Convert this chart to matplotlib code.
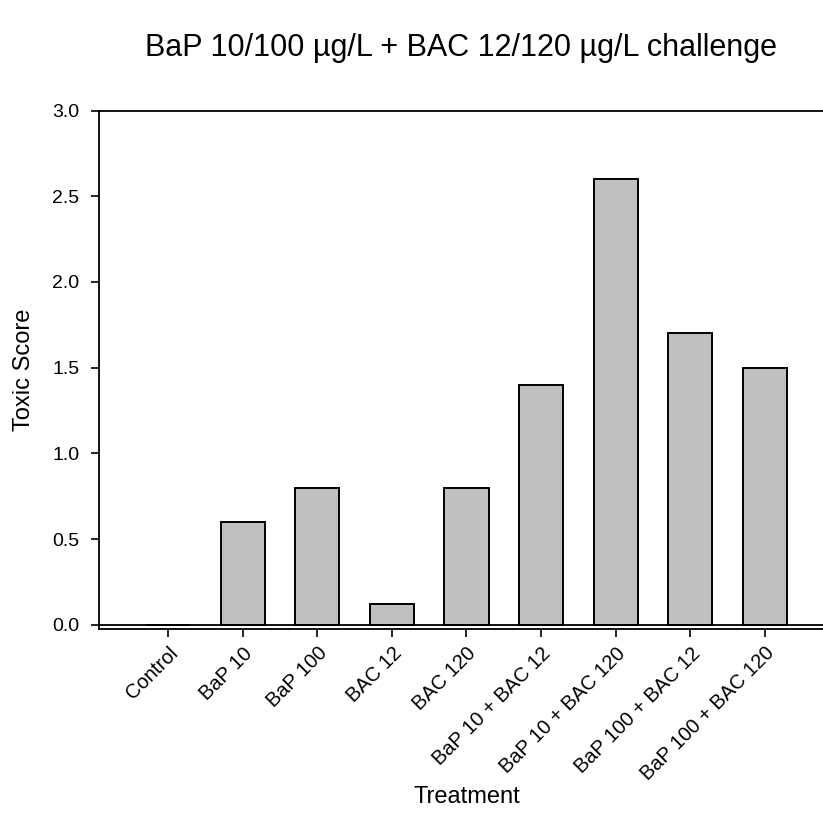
import matplotlib
matplotlib.use("Agg")
import matplotlib.pyplot as plt

plt.rcParams['font.family'] = ['Liberation Sans', 'DejaVu Sans']

treatments = ["Control", "BaP 10", "BaP 100", "BAC 12", "BAC 120",
              "BaP 10 + BAC 12", "BaP 10 + BAC 120", "BaP 100 + BAC 12",
              "BaP 100 + BAC 120"]
toxic_score = [0.0, 0.6, 0.8, 0.12, 0.8, 1.4, 2.6, 1.7, 1.5]
y_ticks = [0.0, 0.5, 1.0, 1.5, 2.0, 2.5, 3.0]

W, H = 823, 836
fig = plt.figure(figsize=(W / 100, H / 100), dpi=100)

left_px, right_px, top_px, bottom_px = 99, 834, 110.5, 629
ax = fig.add_axes([left_px / W, (H - bottom_px) / H,
                   (right_px - left_px) / W, (bottom_px - top_px) / H])

x = list(range(len(treatments)))
ax.bar(x, toxic_score, width=0.59, color="#c0c0c0", edgecolor="black",
       linewidth=1.4, zorder=2)

# zero line sits just above the offset x axis line
ax.axhline(0, color="black", linewidth=1.3, zorder=3)

ax.set_xlim(-0.925, 8.925)
ax.set_ylim(-0.0235, 3.0)
ax.set_yticks(y_ticks)
ax.set_yticklabels([f"{v:.1f}" for v in y_ticks], fontsize=14)
ax.set_xticks(x)
ax.set_xticklabels(treatments, rotation=45, ha="right", va="top",
                   rotation_mode="anchor", fontsize=14.5)

for s in ["left", "top", "bottom", "right"]:
    ax.spines[s].set_linewidth(1.3)
ax.tick_params(axis="both", direction="out", length=5.5, width=1.2)
ax.tick_params(axis="y", pad=8.5)
ax.tick_params(axis="x", pad=5)

fig.text(24 / W, 1 - 370 / H, "Toxic Score", fontsize=17, rotation=90,
         ha="center", va="center")
fig.text(467 / W, 1 - 797 / H, "Treatment", fontsize=17, ha="center", va="center")
fig.text(461 / W, 1 - 48 / H, "BaP 10/100 µg/L + BAC 12/120 µg/L challenge",
         fontsize=22, ha="center", va="center")

fig.savefig("out.png", dpi=100)
